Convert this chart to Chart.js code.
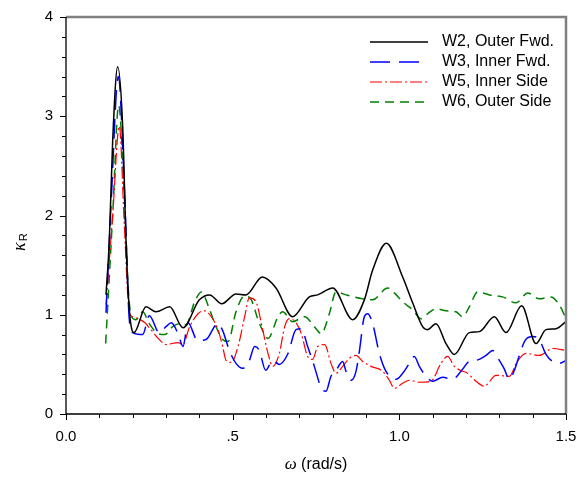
<!DOCTYPE html>
<html>
<head>
<meta charset="utf-8">
<script src="https://cdn.jsdelivr.net/npm/chart.js@4.4.1/dist/chart.umd.min.js"></script>
<style>
  html, body { margin: 0; padding: 0; background: #fff; }
  #wrap { width: 582px; height: 477px; }
</style>
</head>
<body>
<div id="wrap"><canvas id="grafica" width="582" height="477"></canvas></div>
<script>
// datos
const seriesNames = ["W2, Outer Fwd.", "W3, Inner Fwd.", "W5, Inner Side", "W6, Outer Side"];
const xTickLabels = ["0.0", ".5", "1.0", "1.5"];
const yTickLabels = ["0", "1", "2", "3", "4"];

const w2X = [0.12,0.13,0.14,0.155,0.17,0.18,0.19,0.204,0.24,0.27,0.311,0.351,0.40,0.431,0.467,0.51,0.54,0.589,0.63,0.68,0.73,0.755,0.80,0.86,0.895,0.92,0.961,1.01,1.04,1.07,1.084,1.11,1.14,1.165,1.21,1.24,1.285,1.32,1.367,1.41,1.44,1.47,1.5];
const w2Y = [1.2,1.75,2.75,3.5,2.9,1.75,1.05,0.82,1.08,1.03,1.08,0.87,1.15,1.2,1.11,1.21,1.2,1.38,1.27,0.98,1.18,1.2,1.27,0.95,1.15,1.45,1.72,1.38,1.12,0.88,0.85,0.91,0.71,0.6,0.82,0.83,0.98,0.82,1.09,0.71,0.85,0.86,0.93];

const w3X = [0.12,0.135,0.157,0.175,0.19,0.2,0.23,0.25,0.28,0.30,0.316,0.336,0.351,0.366,0.395,0.42,0.455,0.47,0.49,0.51,0.53,0.55,0.566,0.58,0.599,0.62,0.64,0.666,0.69,0.706,0.725,0.745,0.766,0.78,0.795,0.81,0.83,0.84,0.855,0.87,0.88,0.895,0.905,0.92,0.94,0.96,0.99,1.01,1.03,1.045,1.06,1.08,1.10,1.13,1.16,1.185,1.21,1.23,1.26,1.28,1.30,1.314,1.33,1.344,1.36,1.377,1.40,1.42,1.44,1.464,1.48,1.5];
const w3Y = [1.02,2.1,3.4,2.3,0.95,0.82,0.8,0.99,0.82,0.88,0.92,0.81,0.68,0.92,0.74,0.75,0.91,0.84,0.64,0.51,0.46,0.54,0.68,0.64,0.44,0.54,0.50,0.61,0.85,0.86,0.68,0.48,0.26,0.23,0.38,0.44,0.53,0.43,0.34,0.43,0.63,0.98,1.01,0.91,0.61,0.43,0.35,0.41,0.51,0.58,0.48,0.38,0.33,0.37,0.35,0.43,0.53,0.54,0.59,0.64,0.54,0.46,0.35,0.43,0.59,0.74,0.78,0.75,0.6,0.52,0.51,0.54];

const w5X = [0.12,0.14,0.16,0.175,0.19,0.20,0.237,0.25,0.28,0.30,0.336,0.35,0.371,0.396,0.416,0.436,0.456,0.47,0.48,0.496,0.516,0.536,0.55,0.57,0.59,0.606,0.62,0.64,0.656,0.67,0.69,0.706,0.725,0.74,0.755,0.776,0.795,0.81,0.83,0.85,0.87,0.89,0.915,0.95,0.97,0.985,1.01,1.03,1.06,1.095,1.125,1.145,1.165,1.19,1.20,1.23,1.255,1.29,1.33,1.354,1.38,1.42,1.46,1.5];
const w5Y = [1.1,2.0,2.9,1.9,1.02,0.98,0.92,0.87,0.75,0.70,0.72,0.70,0.88,1.01,1.04,0.98,0.85,0.68,0.54,0.52,0.68,0.98,1.17,1.13,0.85,0.61,0.48,0.61,0.88,0.96,0.92,0.81,0.58,0.55,0.68,0.70,0.51,0.41,0.48,0.56,0.59,0.53,0.48,0.43,0.34,0.26,0.31,0.34,0.32,0.33,0.51,0.58,0.48,0.43,0.42,0.33,0.28,0.39,0.38,0.53,0.61,0.59,0.66,0.64];

const w6X = [0.119,0.14,0.158,0.175,0.187,0.197,0.21,0.23,0.25,0.276,0.296,0.32,0.34,0.36,0.386,0.406,0.43,0.45,0.47,0.486,0.51,0.536,0.556,0.576,0.596,0.606,0.636,0.65,0.68,0.716,0.745,0.766,0.79,0.81,0.84,0.89,0.92,0.965,0.985,1.01,1.04,1.065,1.085,1.11,1.14,1.17,1.19,1.21,1.235,1.27,1.31,1.35,1.385,1.42,1.454,1.48,1.5];
const w6Y = [0.71,2.0,3.11,2.2,1.25,0.98,0.95,1.03,0.91,0.81,0.80,0.88,0.91,0.90,1.13,1.23,1.06,0.88,0.75,0.73,1.03,1.19,1.15,0.95,0.80,0.76,0.98,1.03,0.93,0.98,0.88,0.81,1.01,1.23,1.2,1.16,1.15,1.27,1.22,1.13,1.05,0.96,1.01,1.06,1.04,1.03,0.98,1.08,1.23,1.2,1.18,1.12,1.22,1.16,1.18,1.10,0.96];

function puntos(xs, ys) {
    return xs.map((x, i) => ({ x: x, y: ys[i] }));
}

const fuente = "'Liberation Sans', Arial, sans-serif";

// quita el margen extra que Chart.js deja para las etiquetas de los extremos
function sinMargen(s) {
    s.paddingLeft = 0;
    s.paddingRight = 0;
    s.paddingTop = 0;
    s.paddingBottom = 0;
}

// marcas de los ejes, bordes, leyenda y titulos
const decoracion = {
    id: 'decoracion',
    afterDraw(chart) {
        const ctx = chart.ctx;
        const xs = chart.scales.x, ys = chart.scales.y;
        const a = chart.chartArea;
        ctx.save();

        // bordes gris arriba y derecha
        ctx.strokeStyle = '#808080';
        ctx.lineWidth = 2.5;
        ctx.beginPath();
        ctx.moveTo(a.left, a.top);
        ctx.lineTo(a.right, a.top);
        ctx.lineTo(a.right, a.bottom);
        ctx.stroke();

        // ejes negros
        ctx.strokeStyle = '#000';
        ctx.lineWidth = 1.3;
        ctx.beginPath();
        ctx.moveTo(a.left, a.top);
        ctx.lineTo(a.left, a.bottom);
        ctx.lineTo(a.right, a.bottom);
        ctx.stroke();

        ctx.lineWidth = 1;
        ctx.beginPath();
        for (let i = 0; i <= 15; i++) {
            const px = Math.round(xs.getPixelForValue(i / 10)) + 0.5;
            const len = (i % 5 === 0) ? 6 : 4;
            ctx.moveTo(px, a.bottom);
            ctx.lineTo(px, a.bottom + len);
        }
        for (let i = 0; i <= 20; i++) {
            const py = Math.round(ys.getPixelForValue(i / 5)) + 0.5;
            const len = (i % 5 === 0) ? 6 : 4;
            ctx.moveTo(a.left, py);
            ctx.lineTo(a.left - len, py);
        }
        ctx.stroke();

        // leyenda
        const lx0 = 370, lx1 = 428, tx = 442;
        const filas = [42, 62, 82, 102];
        chart.data.datasets.forEach((ds, i) => {
            ctx.strokeStyle = ds.borderColor;
            ctx.lineWidth = ds.borderWidth;
            ctx.setLineDash(ds.borderDash || []);
            ctx.beginPath();
            ctx.moveTo(lx0, filas[i]);
            ctx.lineTo(lx1, filas[i]);
            ctx.stroke();
            ctx.setLineDash([]);
            ctx.fillStyle = '#000';
            ctx.font = '16px ' + fuente;
            ctx.textBaseline = 'middle';
            ctx.textAlign = 'left';
            ctx.fillText(ds.label, tx, filas[i]);
        });

        // titulo eje x
        ctx.fillStyle = '#000';
        ctx.textBaseline = 'middle';
        ctx.textAlign = 'left';
        const t1 = '\u03c9', t2 = ' (rad/s)';
        ctx.font = "italic 17px 'Liberation Serif', serif";
        const w1 = ctx.measureText(t1).width;
        ctx.font = '16px ' + fuente;
        const w2 = ctx.measureText(t2).width;
        const cx = (a.left + a.right) / 2 - (w1 + w2) / 2;
        ctx.font = "italic 17px 'Liberation Serif', serif";
        ctx.fillText(t1, cx, 465);
        ctx.font = '16px ' + fuente;
        ctx.fillText(t2, cx + w1, 465);

        // titulo eje y
        ctx.translate(20, 242);
        ctx.rotate(-Math.PI / 2);
        ctx.font = "italic 18px 'Liberation Serif', serif";
        const wk = ctx.measureText('\u03ba').width;
        ctx.fillText('\u03ba', -9, 0);
        ctx.font = '11px ' + fuente;
        ctx.fillText('R', -9 + wk + 1, 4);

        ctx.restore();
    }
};

const ctxG = document.getElementById('grafica').getContext('2d');
const grafica = new Chart(ctxG, {
    type: 'line',
    data: {
        datasets: [
            { label: seriesNames[0], data: puntos(w2X, w2Y), borderColor: '#000000', borderWidth: 1.5, borderDash: [] },
            { label: seriesNames[1], data: puntos(w3X, w3Y), borderColor: '#0000ff', borderWidth: 1.5, borderDash: [20, 9] },
            { label: seriesNames[2], data: puntos(w5X, w5Y), borderColor: '#ff0000', borderWidth: 1.2, borderDash: [12, 3, 2, 3] },
            { label: seriesNames[3], data: puntos(w6X, w6Y), borderColor: '#008000', borderWidth: 1.5, borderDash: [9, 6] }
        ]
    },
    options: {
        responsive: false,
        animation: false,
        layout: { padding: { top: 17, right: 16, left: 0, bottom: 0 } },
        elements: {
            point: { radius: 0 },
            line: { fill: false, cubicInterpolationMode: 'monotone' }
        },
        plugins: {
            legend: { display: false },
            tooltip: { enabled: false }
        },
        scales: {
            x: {
                type: 'linear',
                min: 0,
                max: 1.5,
                grid: { display: false, drawTicks: false },
                border: { display: false },
                ticks: {
                    stepSize: 0.5,
                    padding: 14,
                    color: '#000',
                    font: { family: fuente, size: 15 },
                    maxRotation: 0,
                    callback: (v) => xTickLabels[Math.round(v * 2)]
                },
                afterFit: (s) => { s.height = 63; sinMargen(s); }
            },
            y: {
                min: 0,
                max: 4,
                grid: { display: false, drawTicks: false },
                border: { display: false },
                ticks: {
                    stepSize: 1,
                    padding: 13,
                    color: '#000',
                    font: { family: fuente, size: 15 },
                    callback: (v) => yTickLabels[Math.round(v)]
                },
                afterFit: (s) => { s.width = 66; sinMargen(s); }
            }
        }
    },
    plugins: [decoracion]
});
</script>
</body>
</html>
